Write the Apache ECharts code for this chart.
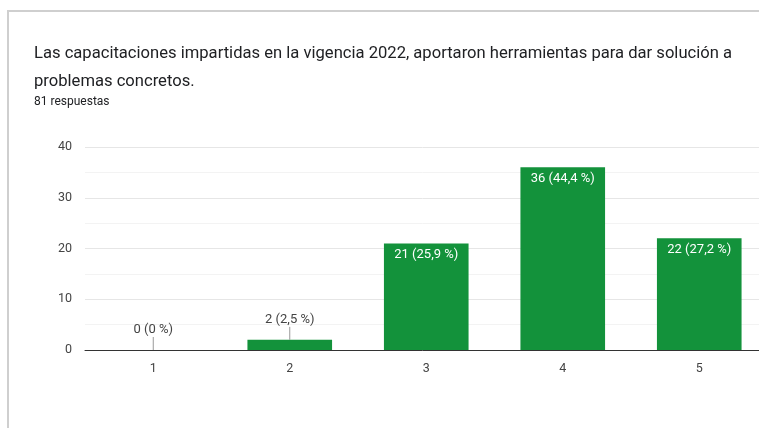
<!DOCTYPE html>
<html>
<head>
<meta charset="utf-8">
<script src="https://cdn.jsdelivr.net/npm/echarts@6/dist/echarts.min.js"></script>
<style>
  html, body { margin: 0; padding: 0; background: #fff; }
  #chart { width: 759px; height: 428px; }
</style>
</head>
<body>
<div id="chart"></div>
<script>
const titleLines = [
  'Las capacitaciones impartidas en la vigencia 2022, aportaron herramientas para dar solución a',
  'problemas concretos.',
]
const responsesText = '81 respuestas'
const categories = ['1', '2', '3', '4', '5']
const counts = [0, 2, 21, 36, 22]
const percents = ['0', '2,5', '25,9', '44,4', '27,2']
const yTicks = [0, 10, 20, 30, 40]

const GREEN = '#13923b'
const FONT = 'Roboto, Arial, sans-serif'

const chart = echarts.init(document.getElementById('chart'))

// low bars get their label above, with a short gray guide line
const barData = counts.map((v, i) => {
  const text = v + ' (' + percents[i] + ' %)'
  if (v < 5) {
    return {
      value: v,
      label: { show: true, position: 'top', distance: 14, color: '#444', formatter: text },
    }
  }
  return {
    value: v,
    label: { show: true, position: 'insideTop', distance: 5, color: '#fff', formatter: text },
  }
})

chart.setOption({
  animation: false,
  textStyle: { fontFamily: FONT },
  graphic: [
    { type: 'line', shape: { x1: 8, y1: 11, x2: 759, y2: 11 }, style: { stroke: '#cfcfcf', lineWidth: 2 } },
    { type: 'line', shape: { x1: 8, y1: 10, x2: 8, y2: 428 }, style: { stroke: '#cfcfcf', lineWidth: 2 } },
  ],
  title: [
    {
      text: titleLines.join('\n'),
      left: 34,
      top: 40,
      padding: 0,
      textStyle: { fontSize: 16.6, fontWeight: 'normal', color: '#202124', lineHeight: 28, fontFamily: FONT },
    },
    {
      text: responsesText,
      left: 34,
      top: 96,
      padding: 0,
      textStyle: { fontSize: 12, fontWeight: 'normal', color: '#202124', fontFamily: FONT },
    },
  ],
  // the plot runs past the right edge of the picture
  grid: { left: 85, width: 682.5, top: 147, bottom: 78, containLabel: false, outerBoundsMode: 'none' },
  xAxis: {
    type: 'category',
    data: categories,
    axisLine: { lineStyle: { color: '#333', width: 1 } },
    axisTick: { show: false },
    axisLabel: { color: '#444', fontSize: 12.5, margin: 12 },
    splitLine: { show: false },
  },
  yAxis: {
    type: 'value',
    min: yTicks[0],
    max: yTicks[yTicks.length - 1],
    interval: 10,
    axisLine: { show: false },
    axisTick: { show: false },
    axisLabel: { color: '#444', fontSize: 12.5, margin: 13 },
    splitLine: { lineStyle: { color: '#e6e6e6' } },
    minorTick: { show: false, splitNumber: 2 },
    minorSplitLine: { show: true, lineStyle: { color: '#f3f3f3' } },
  },
  series: [
    {
      type: 'bar',
      data: barData,
      barWidth: '62%',
      itemStyle: { color: GREEN },
      label: { fontSize: 13, fontFamily: FONT },
      z: 3,
    },
    {
      // guide lines for the labels sitting above short bars
      type: 'custom',
      data: counts.map((v, i) => [i, v]),
      z: 4,
      renderItem(params, api) {
        const v = api.value(1)
        if (v >= 5) return null
        const p = api.coord([api.value(0), v])
        return {
          type: 'line',
          shape: { x1: p[0], y1: p[1], x2: p[0], y2: p[1] - 13 },
          style: { stroke: '#999', lineWidth: 1 },
        }
      },
    },
  ],
})
</script>
</body>
</html>
